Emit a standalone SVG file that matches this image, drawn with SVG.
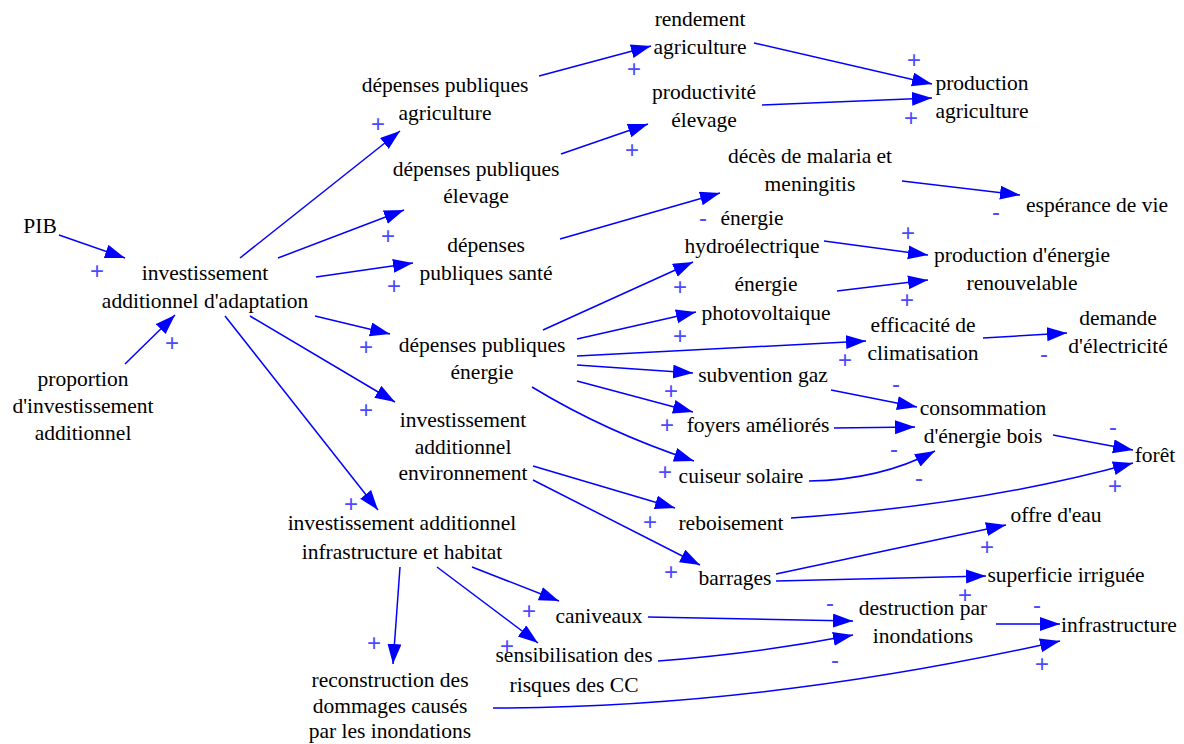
<svg xmlns="http://www.w3.org/2000/svg" width="1184" height="744" viewBox="0 0 1184 744">
<style>
.c{fill:none;stroke:#0000ff;stroke-width:1.5;marker-end:url(#ah)}
.s{font-family:"Liberation Sans",Arial,sans-serif;font-size:24px;fill:#4a4aff;text-anchor:middle}
</style>
<defs>
<marker id="ah" markerUnits="userSpaceOnUse" markerWidth="22" markerHeight="16" refX="20" refY="7" orient="auto">
<path d="M0,0 L20,7 L0,14 z" fill="#0000ff"/>
</marker>
</defs>
<rect width="1184" height="744" fill="#fff"/>
<g id="connectors">
<path class="c" d="M59,235 L125,258"/>
<path class="c" d="M125,364 L175,315"/>
<path class="c" d="M240,258 L400,131"/>
<path class="c" d="M278,258 L404,210"/>
<path class="c" d="M316,277 L413,263"/>
<path class="c" d="M315,316 L390,334"/>
<path class="c" d="M250,316 L395,402"/>
<path class="c" d="M225,316 L378,510"/>
<path class="c" d="M539,76 L651,46"/>
<path class="c" d="M561,154 L648,124"/>
<path class="c" d="M560,239 L720,193"/>
<path class="c" d="M754,43 L932,84"/>
<path class="c" d="M762,105 L932,98"/>
<path class="c" d="M902,181 L1020,195"/>
<path class="c" d="M543,330 L693,262"/>
<path class="c" d="M577,339 L696,312"/>
<path class="c" d="M577,356 L866,341"/>
<path class="c" d="M577,365 L693,373"/>
<path class="c" d="M577,381 L693,412"/>
<path class="c" d="M532,387 Q606,432 694,461"/>
<path class="c" d="M824,241 L928,255"/>
<path class="c" d="M837,291 L928,280"/>
<path class="c" d="M983,338 L1067,333"/>
<path class="c" d="M831,390 L917,407"/>
<path class="c" d="M834,428 L915,427"/>
<path class="c" d="M809,481 Q880,480 935,451"/>
<path class="c" d="M1053,435 L1133,450"/>
<path class="c" d="M791,518 Q980,505 1133,463"/>
<path class="c" d="M533,466 L675,508"/>
<path class="c" d="M533,480 L700,565"/>
<path class="c" d="M776,574 L1006,525"/>
<path class="c" d="M776,581 L986,576"/>
<path class="c" d="M648,617 L853,621"/>
<path class="c" d="M658,661 Q760,653 853,635"/>
<path class="c" d="M996,624 L1060,624"/>
<path class="c" d="M493,708 Q760,708 1060,641"/>
<path class="c" d="M472,567 L559,601"/>
<path class="c" d="M437,567 L538,643"/>
<path class="c" d="M400,567 L393,664"/>
</g>
<g id="polarities">
<text class="s" x="97" y="279">+</text>
<text class="s" x="172" y="351">+</text>
<text class="s" x="378" y="132">+</text>
<text class="s" x="388" y="244">+</text>
<text class="s" x="394" y="294">+</text>
<text class="s" x="366" y="355">+</text>
<text class="s" x="366" y="418">+</text>
<text class="s" x="351" y="512">+</text>
<text class="s" x="634" y="77">+</text>
<text class="s" x="632" y="158">+</text>
<text class="s" x="703" y="226">-</text>
<text class="s" x="914" y="68">+</text>
<text class="s" x="911" y="126">+</text>
<text class="s" x="996" y="220">-</text>
<text class="s" x="680" y="295">+</text>
<text class="s" x="680" y="344">+</text>
<text class="s" x="845" y="368">+</text>
<text class="s" x="671" y="399">+</text>
<text class="s" x="667" y="433">+</text>
<text class="s" x="665" y="480">+</text>
<text class="s" x="908" y="241">+</text>
<text class="s" x="907" y="308">+</text>
<text class="s" x="1044" y="362">-</text>
<text class="s" x="896" y="392">-</text>
<text class="s" x="894" y="457">-</text>
<text class="s" x="919" y="486">-</text>
<text class="s" x="1113" y="435">-</text>
<text class="s" x="1115" y="494">+</text>
<text class="s" x="650" y="530">+</text>
<text class="s" x="671" y="580">+</text>
<text class="s" x="987" y="555">+</text>
<text class="s" x="965" y="603">+</text>
<text class="s" x="830" y="611">-</text>
<text class="s" x="835" y="668">-</text>
<text class="s" x="1037" y="613">-</text>
<text class="s" x="1042" y="672">+</text>
<text class="s" x="529" y="619">+</text>
<text class="s" x="507" y="654">+</text>
<text class="s" x="374" y="651">+</text>
</g>
<g id="nodes" font-family="Liberation Serif, Times New Roman, serif" font-size="21.5" fill="#000" text-anchor="middle">
<g id="n_rendement"><text x="700" y="26">rendement<tspan x="700" y="54">agriculture</tspan></text></g>
<g id="n_dpagri"><text x="445" y="92">dépenses publiques<tspan x="445" y="120">agriculture</tspan></text></g>
<g id="n_prodelev"><text x="704" y="99">productivité<tspan x="704" y="127">élevage</tspan></text></g>
<g id="n_dpelev"><text x="476" y="176">dépenses publiques<tspan x="476" y="203">élevage</tspan></text></g>
<g id="n_prodagri"><text x="982" y="90">production<tspan x="982" y="118">agriculture</tspan></text></g>
<g id="n_deces"><text x="810" y="163">décès de malaria et<tspan x="810" y="191">meningitis</tspan></text></g>
<g id="n_esperance"><text x="1097" y="212">espérance de vie</text></g>
<g id="n_pib"><text x="40" y="233">PIB</text></g>
<g id="n_invadapt"><text x="205" y="280">investissement<tspan x="205" y="308">additionnel d'adaptation</tspan></text></g>
<g id="n_proportion"><text x="83" y="386">proportion<tspan x="83" y="413">d'investissement</tspan><tspan x="83" y="440">additionnel</tspan></text></g>
<g id="n_dpsante"><text x="486" y="252">dépenses<tspan x="486" y="280">publiques santé</tspan></text></g>
<g id="n_dpenergie"><text x="482" y="352">dépenses publiques<tspan x="482" y="379">énergie</tspan></text></g>
<g id="n_invenv"><text x="463" y="427">investissement<tspan x="463" y="454">additionnel</tspan><tspan x="463" y="480">environnement</tspan></text></g>
<g id="n_hydro"><text x="752" y="225">énergie<tspan x="752" y="253">hydroélectrique</tspan></text></g>
<g id="n_photo"><text x="766" y="291">énergie<tspan x="766" y="320">photovoltaique</tspan></text></g>
<g id="n_subgaz"><text x="763" y="382">subvention gaz</text></g>
<g id="n_foyers"><text x="758" y="432">foyers améliorés</text></g>
<g id="n_cuiseur"><text x="741" y="483">cuiseur solaire</text></g>
<g id="n_prodener"><text x="1022" y="262">production d'énergie<tspan x="1022" y="290">renouvelable</tspan></text></g>
<g id="n_efficacite"><text x="923" y="332">efficacité de<tspan x="923" y="360">climatisation</tspan></text></g>
<g id="n_demande"><text x="1118" y="325">demande<tspan x="1118" y="353">d'électricité</tspan></text></g>
<g id="n_consommation"><text x="983" y="415">consommation<tspan x="983" y="443">d'énergie bois</tspan></text></g>
<g id="n_foret"><text x="1155" y="462">forêt</text></g>
<g id="n_reboisement"><text x="731" y="530">reboisement</text></g>
<g id="n_barrages"><text x="735" y="585">barrages</text></g>
<g id="n_offre"><text x="1056" y="522">offre d'eau</text></g>
<g id="n_superficie"><text x="1066" y="582">superficie irriguée</text></g>
<g id="n_destruction"><text x="923" y="615">destruction par<tspan x="923" y="643">inondations</tspan></text></g>
<g id="n_infrastructure"><text x="1119" y="632">infrastructure</text></g>
<g id="n_invinfra"><text x="402" y="530">investissement additionnel<tspan x="402" y="559">infrastructure et habitat</tspan></text></g>
<g id="n_caniveaux"><text x="599" y="623">caniveaux</text></g>
<g id="n_sensib"><text x="574" y="662">sensibilisation des<tspan x="574" y="692">risques des CC</tspan></text></g>
<g id="n_reconstruction"><text x="390" y="687">reconstruction des<tspan x="390" y="713">dommages causés</tspan><tspan x="390" y="738">par les inondations</tspan></text></g>
</g>
</svg>
